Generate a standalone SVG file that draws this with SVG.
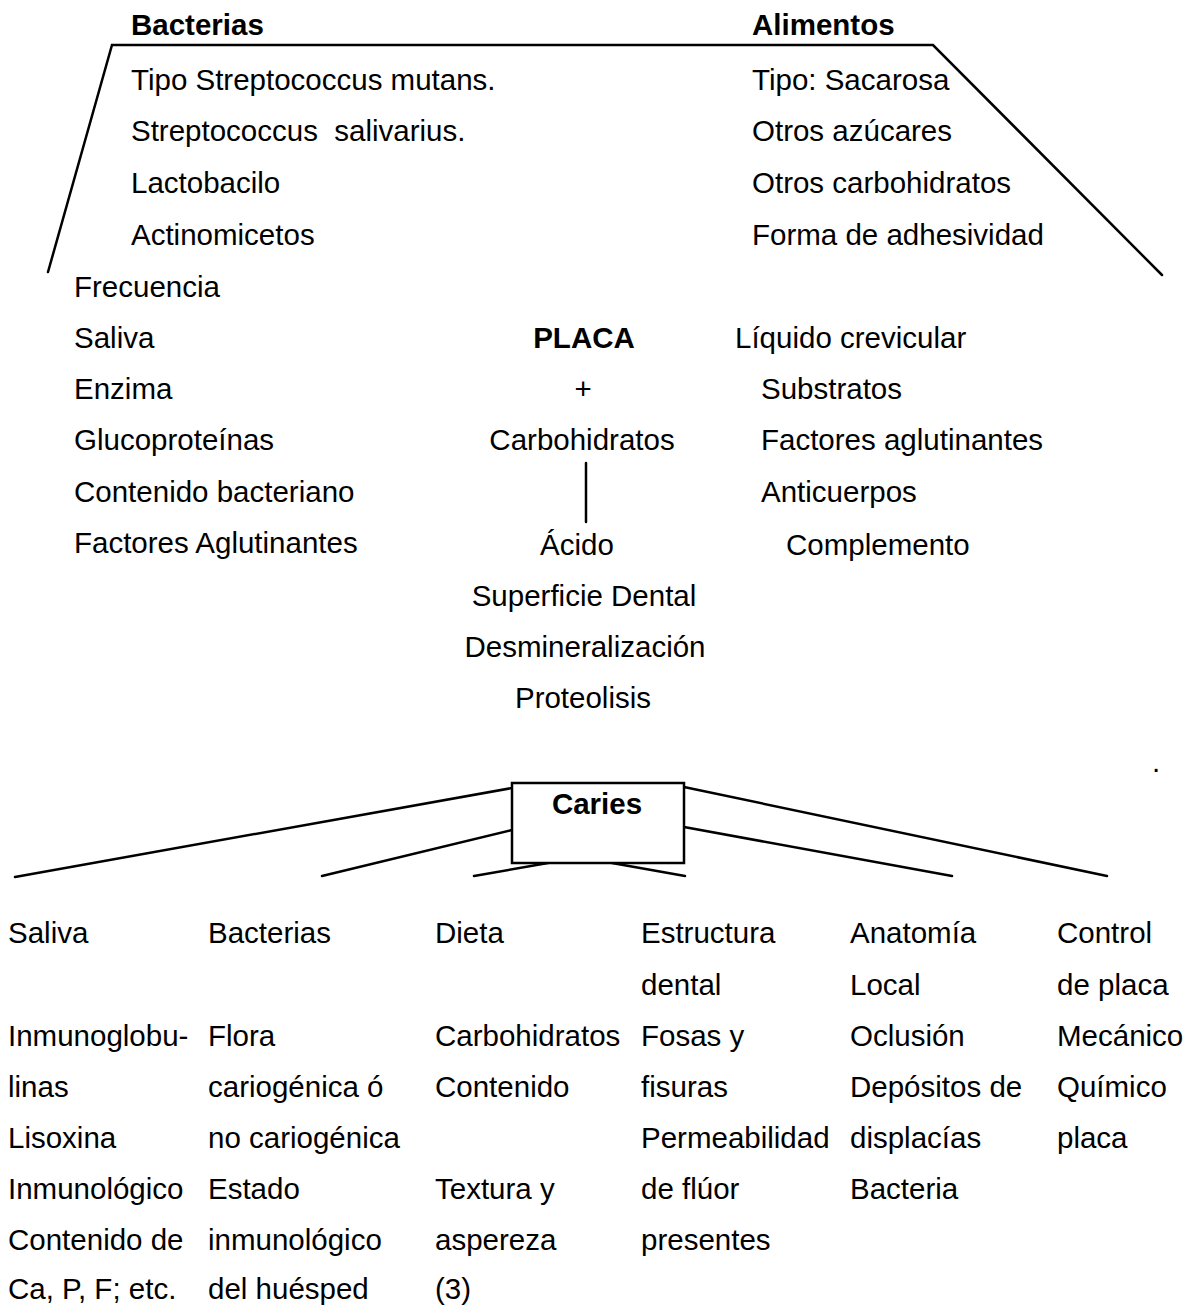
<svg xmlns="http://www.w3.org/2000/svg" width="1193" height="1307" viewBox="0 0 1193 1307">
<style>
text{font-family:"Liberation Sans",Arial,sans-serif;font-size:29.5px;fill:#000}
.b{font-weight:bold}
.m{text-anchor:middle}
.ln{stroke:#000;stroke-width:2.5;fill:none;stroke-linecap:round}
</style>
<rect width="1193" height="1307" fill="#fff"/>
<g id="connectors">
<polyline class="ln" points="48,272 112,45 933,45 1162,275"/>
<line class="ln" x1="586" y1="463" x2="586" y2="522"/>
<line class="ln" x1="512" y1="788" x2="15" y2="877"/>
<line class="ln" x1="512" y1="830" x2="322" y2="876"/>
<line class="ln" x1="548" y1="863" x2="474" y2="876"/>
<line class="ln" x1="612" y1="863" x2="685" y2="876"/>
<line class="ln" x1="684" y1="827" x2="952" y2="876"/>
<line class="ln" x1="684" y1="787" x2="1107" y2="876"/>
</g>
<g id="bacterias">
<text class="b" x="131" y="35">Bacterias</text>
<text x="131" y="90">Tipo Streptococcus mutans.</text>
<text x="131" y="141" xml:space="preserve">Streptococcus  salivarius.</text>
<text x="131" y="193">Lactobacilo</text>
<text x="131" y="245">Actinomicetos</text>
</g>
<g id="alimentos">
<text class="b" x="752" y="35">Alimentos</text>
<text x="752" y="90">Tipo: Sacarosa</text>
<text x="752" y="141">Otros azúcares</text>
<text x="752" y="193">Otros carbohidratos</text>
<text x="752" y="245">Forma de adhesividad</text>
</g>
<g id="huesped">
<text x="74" y="297">Frecuencia</text>
<text x="74" y="348">Saliva</text>
<text x="74" y="399">Enzima</text>
<text x="74" y="450">Glucoproteínas</text>
<text x="74" y="502">Contenido bacteriano</text>
<text x="74" y="553">Factores Aglutinantes</text>
</g>
<g id="placa">
<text class="b m" x="584" y="348">PLACA</text>
<text class="m" x="583" y="399">+</text>
<text class="m" x="582" y="450">Carbohidratos</text>
<text class="m" x="577" y="555">Ácido</text>
<text class="m" x="584" y="606">Superficie Dental</text>
<text class="m" x="585" y="657">Desmineralización</text>
<text class="m" x="583" y="708">Proteolisis</text>
</g>
<g id="liquido">
<text x="735" y="348">Líquido crevicular</text>
<text x="761" y="399">Substratos</text>
<text x="761" y="450">Factores aglutinantes</text>
<text x="761" y="502">Anticuerpos</text>
<text x="786" y="555">Complemento</text>
</g>
<text x="1152" y="772">.</text>
<g id="caries">
<rect x="512" y="783" width="172" height="80" fill="#fff" stroke="#000" stroke-width="2.5"/>
<text class="b m" x="597" y="814">Caries</text>
</g>
<g id="col-saliva">
<text x="8" y="943">Saliva</text>
<text x="8" y="1046">Inmunoglobu-</text>
<text x="8" y="1097">linas</text>
<text x="8" y="1148">Lisoxina</text>
<text x="8" y="1199">Inmunológico</text>
<text x="8" y="1250">Contenido de</text>
<text x="8" y="1299">Ca, P, F; etc.</text>
</g>
<g id="col-bacterias">
<text x="208" y="943">Bacterias</text>
<text x="208" y="1046">Flora</text>
<text x="208" y="1097">cariogénica ó</text>
<text x="208" y="1148">no cariogénica</text>
<text x="208" y="1199">Estado</text>
<text x="208" y="1250">inmunológico</text>
<text x="208" y="1299">del huésped</text>
</g>
<g id="col-dieta">
<text x="435" y="943">Dieta</text>
<text x="435" y="1046">Carbohidratos</text>
<text x="435" y="1097">Contenido</text>
<text x="435" y="1199">Textura y</text>
<text x="435" y="1250">aspereza</text>
<text x="435" y="1299">(3)</text>
</g>
<g id="col-estructura">
<text x="641" y="943">Estructura</text>
<text x="641" y="995">dental</text>
<text x="641" y="1046">Fosas y</text>
<text x="641" y="1097">fisuras</text>
<text x="641" y="1148">Permeabilidad</text>
<text x="641" y="1199">de flúor</text>
<text x="641" y="1250">presentes</text>
</g>
<g id="col-anatomia">
<text x="850" y="943">Anatomía</text>
<text x="850" y="995">Local</text>
<text x="850" y="1046">Oclusión</text>
<text x="850" y="1097">Depósitos de</text>
<text x="850" y="1148">displacías</text>
<text x="850" y="1199">Bacteria</text>
</g>
<g id="col-control">
<text x="1057" y="943">Control</text>
<text x="1057" y="995">de placa</text>
<text x="1057" y="1046">Mecánico</text>
<text x="1057" y="1097">Químico</text>
<text x="1057" y="1148">placa</text>
</g>
</svg>
